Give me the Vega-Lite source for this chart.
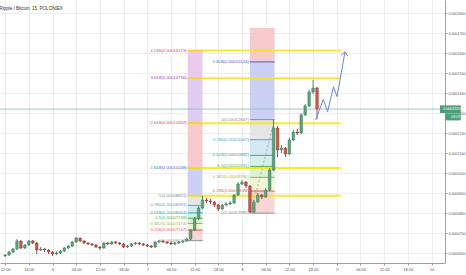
{
 "$schema": "https://vega.github.io/schema/vega-lite/v6.json",
 "width": 445, "height": 263,
 "autosize": "none",
 "padding": {"left": 0, "top": 0, "right": 21, "bottom": 12},
 "background": "white",
 "title": {"text": "Ripple / Bitcoin, 15, POLONIEX", "anchor": "start", "offset": -10, "fontSize": 4.5, "fontWeight": "normal", "color": "#333333"},
 "config": {
  "view": {"stroke": null},
  "font": "Liberation Sans",
  "axis": {"grid": true, "gridColor": "#ededed", "gridWidth": 1, "domainColor": "#a0a0a0", "tickColor": "#a0a0a0", "labelColor": "#555555", "tickSize": 2},
  "axisX": {"labelOverlap": false, "labelFlush": false, "labelFontSize": 4, "labelPadding": 2},
  "axisY": {"labelOverlap": false, "labelFlush": false, "labelFontSize": 3.6, "labelPadding": 1}
 },
 "datasets": {
  "candles": [
   {"t":"2017-05-05T12:00:00Z","o":0.00005850,"h":0.00005950,"l":0.00005800,"c":0.00005900},
   {"t":"2017-05-05T13:00:00Z","o":0.00005900,"h":0.00006100,"l":0.00005850,"c":0.00006050},
   {"t":"2017-05-05T14:00:00Z","o":0.00006050,"h":0.00006250,"l":0.00006000,"c":0.00006200},
   {"t":"2017-05-05T15:00:00Z","o":0.00006200,"h":0.00006700,"l":0.00006150,"c":0.00006600},
   {"t":"2017-05-05T16:00:00Z","o":0.00006600,"h":0.00006650,"l":0.00006200,"c":0.00006250},
   {"t":"2017-05-05T17:00:00Z","o":0.00006250,"h":0.00006450,"l":0.00006200,"c":0.00006400},
   {"t":"2017-05-05T18:00:00Z","o":0.00006400,"h":0.00006650,"l":0.00006350,"c":0.00006600},
   {"t":"2017-05-05T19:00:00Z","o":0.00006600,"h":0.00006650,"l":0.00006450,"c":0.00006500},
   {"t":"2017-05-05T20:00:00Z","o":0.00006500,"h":0.00006550,"l":0.00005950,"c":0.00006150},
   {"t":"2017-05-05T21:00:00Z","o":0.00006150,"h":0.00006300,"l":0.00006100,"c":0.00006200},
   {"t":"2017-05-05T22:00:00Z","o":0.00006200,"h":0.00006250,"l":0.00006050,"c":0.00006150},
   {"t":"2017-05-05T23:00:00Z","o":0.00006150,"h":0.00006200,"l":0.00005950,"c":0.00006050},
   {"t":"2017-05-06T00:00:00Z","o":0.00006050,"h":0.00006100,"l":0.00005850,"c":0.00005950},
   {"t":"2017-05-06T01:00:00Z","o":0.00005950,"h":0.00006080,"l":0.00005900,"c":0.00006000},
   {"t":"2017-05-06T02:00:00Z","o":0.00006000,"h":0.00006150,"l":0.00005950,"c":0.00006100},
   {"t":"2017-05-06T03:00:00Z","o":0.00006100,"h":0.00006300,"l":0.00006050,"c":0.00006250},
   {"t":"2017-05-06T04:00:00Z","o":0.00006250,"h":0.00006400,"l":0.00006200,"c":0.00006350},
   {"t":"2017-05-06T05:00:00Z","o":0.00006350,"h":0.00006600,"l":0.00006300,"c":0.00006550},
   {"t":"2017-05-06T06:00:00Z","o":0.00006550,"h":0.00006800,"l":0.00006500,"c":0.00006750},
   {"t":"2017-05-06T07:00:00Z","o":0.00006750,"h":0.00006780,"l":0.00006550,"c":0.00006600},
   {"t":"2017-05-06T08:00:00Z","o":0.00006600,"h":0.00006650,"l":0.00006450,"c":0.00006500},
   {"t":"2017-05-06T09:00:00Z","o":0.00006500,"h":0.00006550,"l":0.00006400,"c":0.00006450},
   {"t":"2017-05-06T10:00:00Z","o":0.00006450,"h":0.00006500,"l":0.00006350,"c":0.00006400},
   {"t":"2017-05-06T11:00:00Z","o":0.00006400,"h":0.00006450,"l":0.00006250,"c":0.00006300},
   {"t":"2017-05-06T12:00:00Z","o":0.00006300,"h":0.00006350,"l":0.00006150,"c":0.00006250},
   {"t":"2017-05-06T13:00:00Z","o":0.00006250,"h":0.00006550,"l":0.00006200,"c":0.00006500},
   {"t":"2017-05-06T14:00:00Z","o":0.00006500,"h":0.00006550,"l":0.00006400,"c":0.00006450},
   {"t":"2017-05-06T15:00:00Z","o":0.00006450,"h":0.00006600,"l":0.00006400,"c":0.00006550},
   {"t":"2017-05-06T16:00:00Z","o":0.00006550,"h":0.00006600,"l":0.00006450,"c":0.00006500},
   {"t":"2017-05-06T17:00:00Z","o":0.00006500,"h":0.00006550,"l":0.00006400,"c":0.00006450},
   {"t":"2017-05-06T18:00:00Z","o":0.00006450,"h":0.00006500,"l":0.00006250,"c":0.00006300},
   {"t":"2017-05-06T19:00:00Z","o":0.00006300,"h":0.00006400,"l":0.00006250,"c":0.00006350},
   {"t":"2017-05-06T20:00:00Z","o":0.00006350,"h":0.00006500,"l":0.00006300,"c":0.00006450},
   {"t":"2017-05-06T21:00:00Z","o":0.00006450,"h":0.00006550,"l":0.00006400,"c":0.00006500},
   {"t":"2017-05-06T22:00:00Z","o":0.00006500,"h":0.00006550,"l":0.00006400,"c":0.00006450},
   {"t":"2017-05-06T23:00:00Z","o":0.00006450,"h":0.00006500,"l":0.00006350,"c":0.00006400},
   {"t":"2017-05-07T00:00:00Z","o":0.00006400,"h":0.00006450,"l":0.00006300,"c":0.00006350},
   {"t":"2017-05-07T01:00:00Z","o":0.00006350,"h":0.00006400,"l":0.00006250,"c":0.00006300},
   {"t":"2017-05-07T02:00:00Z","o":0.00006300,"h":0.00006600,"l":0.00006250,"c":0.00006550},
   {"t":"2017-05-07T03:00:00Z","o":0.00006550,"h":0.00006650,"l":0.00006500,"c":0.00006600},
   {"t":"2017-05-07T04:00:00Z","o":0.00006600,"h":0.00006650,"l":0.00006500,"c":0.00006550},
   {"t":"2017-05-07T05:00:00Z","o":0.00006550,"h":0.00006600,"l":0.00006450,"c":0.00006500},
   {"t":"2017-05-07T06:00:00Z","o":0.00006500,"h":0.00006550,"l":0.00006400,"c":0.00006450},
   {"t":"2017-05-07T07:00:00Z","o":0.00006450,"h":0.00006550,"l":0.00006400,"c":0.00006500},
   {"t":"2017-05-07T08:00:00Z","o":0.00006500,"h":0.00006600,"l":0.00006450,"c":0.00006550},
   {"t":"2017-05-07T09:00:00Z","o":0.00006550,"h":0.00006650,"l":0.00006500,"c":0.00006600},
   {"t":"2017-05-07T10:00:00Z","o":0.00006600,"h":0.00006750,"l":0.00006560,"c":0.00006700},
   {"t":"2017-05-07T11:00:00Z","o":0.00006700,"h":0.00007200,"l":0.00006650,"c":0.00007150},
   {"t":"2017-05-07T12:00:00Z","o":0.00007150,"h":0.00007800,"l":0.00007100,"c":0.00007700},
   {"t":"2017-05-07T13:00:00Z","o":0.00007700,"h":0.00008350,"l":0.00007650,"c":0.00008250},
   {"t":"2017-05-07T14:00:00Z","o":0.00008250,"h":0.00008861,"l":0.00008200,"c":0.00008650},
   {"t":"2017-05-07T15:00:00Z","o":0.00008650,"h":0.00008750,"l":0.00008500,"c":0.00008600},
   {"t":"2017-05-07T16:00:00Z","o":0.00008600,"h":0.00008700,"l":0.00008450,"c":0.00008550},
   {"t":"2017-05-07T17:00:00Z","o":0.00008550,"h":0.00008600,"l":0.00008300,"c":0.00008400},
   {"t":"2017-05-07T18:00:00Z","o":0.00008400,"h":0.00008450,"l":0.00008100,"c":0.00008200},
   {"t":"2017-05-07T19:00:00Z","o":0.00008200,"h":0.00008450,"l":0.00008150,"c":0.00008400},
   {"t":"2017-05-07T20:00:00Z","o":0.00008400,"h":0.00008550,"l":0.00008350,"c":0.00008450},
   {"t":"2017-05-07T21:00:00Z","o":0.00008450,"h":0.00008600,"l":0.00008400,"c":0.00008500},
   {"t":"2017-05-07T22:00:00Z","o":0.00008500,"h":0.00008950,"l":0.00008450,"c":0.00008900},
   {"t":"2017-05-07T23:00:00Z","o":0.00008900,"h":0.00009550,"l":0.00008850,"c":0.00009450},
   {"t":"2017-05-08T00:00:00Z","o":0.00009450,"h":0.00009650,"l":0.00009400,"c":0.00009550},
   {"t":"2017-05-08T01:00:00Z","o":0.00009550,"h":0.00009600,"l":0.00009250,"c":0.00009350},
   {"t":"2017-05-08T02:00:00Z","o":0.00009350,"h":0.00009400,"l":0.00007995,"c":0.00008050},
   {"t":"2017-05-08T03:00:00Z","o":0.00008050,"h":0.00008650,"l":0.00008000,"c":0.00008550},
   {"t":"2017-05-08T04:00:00Z","o":0.00008550,"h":0.00009000,"l":0.00008500,"c":0.00008900},
   {"t":"2017-05-08T05:00:00Z","o":0.00008900,"h":0.00008950,"l":0.00008700,"c":0.00008800},
   {"t":"2017-05-08T06:00:00Z","o":0.00008800,"h":0.00009250,"l":0.00008750,"c":0.00009150},
   {"t":"2017-05-08T07:00:00Z","o":0.00009150,"h":0.00010250,"l":0.00009100,"c":0.00010150},
   {"t":"2017-05-08T08:00:00Z","o":0.00010150,"h":0.00012667,"l":0.00010100,"c":0.00012250},
   {"t":"2017-05-08T09:00:00Z","o":0.00012250,"h":0.00012350,"l":0.00010800,"c":0.00011150},
   {"t":"2017-05-08T10:00:00Z","o":0.00011150,"h":0.00011400,"l":0.00011000,"c":0.00011250},
   {"t":"2017-05-08T11:00:00Z","o":0.00011250,"h":0.00011300,"l":0.00010800,"c":0.00010950},
   {"t":"2017-05-08T12:00:00Z","o":0.00010950,"h":0.00011750,"l":0.00010900,"c":0.00011650},
   {"t":"2017-05-08T13:00:00Z","o":0.00011650,"h":0.00012150,"l":0.00011600,"c":0.00012050},
   {"t":"2017-05-08T14:00:00Z","o":0.00012050,"h":0.00012200,"l":0.00011900,"c":0.00012000},
   {"t":"2017-05-08T15:00:00Z","o":0.00012000,"h":0.00013000,"l":0.00011950,"c":0.00012900},
   {"t":"2017-05-08T16:00:00Z","o":0.00012900,"h":0.00013450,"l":0.00012850,"c":0.00013350},
   {"t":"2017-05-08T17:00:00Z","o":0.00013350,"h":0.00014150,"l":0.00013300,"c":0.00014050},
   {"t":"2017-05-08T18:00:00Z","o":0.00014050,"h":0.00014650,"l":0.00013950,"c":0.00014250},
   {"t":"2017-05-08T19:00:00Z","o":0.00014250,"h":0.00014300,"l":0.00012700,"c":0.00013200}
  ],
  "bands": [
   {"fib":"A","zone":"4.236","t":"2017-05-07T10:15:00Z","t2":"2017-05-07T14:00:00Z","v":0.00014736,"v2":0.00016123},
   {"fib":"A","zone":"3.618","t":"2017-05-07T10:15:00Z","t2":"2017-05-07T14:00:00Z","v":0.00012492,"v2":0.00014736},
   {"fib":"A","zone":"2.618","t":"2017-05-07T10:15:00Z","t2":"2017-05-07T14:00:00Z","v":0.00010248,"v2":0.00012492},
   {"fib":"A","zone":"1.618","t":"2017-05-07T10:15:00Z","t2":"2017-05-07T14:00:00Z","v":0.00008861,"v2":0.00010248},
   {"fib":"A","zone":"1","t":"2017-05-07T10:15:00Z","t2":"2017-05-07T14:00:00Z","v":0.00008381,"v2":0.00008861},
   {"fib":"A","zone":"0.786","t":"2017-05-07T10:15:00Z","t2":"2017-05-07T14:00:00Z","v":0.00008004,"v2":0.00008381},
   {"fib":"A","zone":"0.618","t":"2017-05-07T10:15:00Z","t2":"2017-05-07T14:00:00Z","v":0.00007739,"v2":0.00008004},
   {"fib":"A","zone":"0.5","t":"2017-05-07T10:15:00Z","t2":"2017-05-07T14:00:00Z","v":0.00007474,"v2":0.00007739},
   {"fib":"A","zone":"0.382","t":"2017-05-07T10:15:00Z","t2":"2017-05-07T14:00:00Z","v":0.00007147,"v2":0.00007474},
   {"fib":"A","zone":"0.236","t":"2017-05-07T10:15:00Z","t2":"2017-05-07T14:00:00Z","v":0.00006617,"v2":0.00007147},
   {"fib":"B","zone":"2.618","t":"2017-05-08T02:00:00Z","t2":"2017-05-08T08:15:00Z","v":0.00015554,"v2":0.00017250},
   {"fib":"B","zone":"1.618","t":"2017-05-08T02:00:00Z","t2":"2017-05-08T08:15:00Z","v":0.00012667,"v2":0.00015554},
   {"fib":"B","zone":"1","t":"2017-05-08T02:00:00Z","t2":"2017-05-08T08:15:00Z","v":0.00011667,"v2":0.00012667},
   {"fib":"B","zone":"0.786","t":"2017-05-08T02:00:00Z","t2":"2017-05-08T08:15:00Z","v":0.00010882,"v2":0.00011667},
   {"fib":"B","zone":"0.618","t":"2017-05-08T02:00:00Z","t2":"2017-05-08T08:15:00Z","v":0.00010331,"v2":0.00010882},
   {"fib":"B","zone":"0.5","t":"2017-05-08T02:00:00Z","t2":"2017-05-08T08:15:00Z","v":0.00009780,"v2":0.00010331},
   {"fib":"B","zone":"0.382","t":"2017-05-08T02:00:00Z","t2":"2017-05-08T08:15:00Z","v":0.00009098,"v2":0.00009780},
   {"fib":"B","zone":"0.236","t":"2017-05-08T02:00:00Z","t2":"2017-05-08T08:15:00Z","v":0.00007995,"v2":0.00009098}
  ],
  "levels": [
   {"fib":"A","level":"4.236","v":0.00016123,"t":"2017-05-07T10:15:00Z","t2":"2017-05-07T14:00:00Z","label":"4.236(0.00016123)"},
   {"fib":"A","level":"3.618","v":0.00014736,"t":"2017-05-07T10:15:00Z","t2":"2017-05-07T14:00:00Z","label":"3.618(0.00014736)"},
   {"fib":"A","level":"2.618","v":0.00012492,"t":"2017-05-07T10:15:00Z","t2":"2017-05-07T14:00:00Z","label":"2.618(0.00012492)"},
   {"fib":"A","level":"1.618","v":0.00010248,"t":"2017-05-07T10:15:00Z","t2":"2017-05-07T14:00:00Z","label":"1.618(0.00010248)"},
   {"fib":"A","level":"1","v":0.00008861,"t":"2017-05-07T10:15:00Z","t2":"2017-05-07T14:00:00Z","label":"1(0.00008861)"},
   {"fib":"A","level":"0.786","v":0.00008381,"t":"2017-05-07T10:15:00Z","t2":"2017-05-07T14:00:00Z","label":"0.786(0.00008381)"},
   {"fib":"A","level":"0.618","v":0.00008004,"t":"2017-05-07T10:15:00Z","t2":"2017-05-07T14:00:00Z","label":"0.618(0.00008004)"},
   {"fib":"A","level":"0.5","v":0.00007739,"t":"2017-05-07T10:15:00Z","t2":"2017-05-07T14:00:00Z","label":"0.5(0.00007739)"},
   {"fib":"A","level":"0.382","v":0.00007474,"t":"2017-05-07T10:15:00Z","t2":"2017-05-07T14:00:00Z","label":"0.382(0.00007474)"},
   {"fib":"A","level":"0.236","v":0.00007147,"t":"2017-05-07T10:15:00Z","t2":"2017-05-07T14:00:00Z","label":"0.236(0.00007147)"},
   {"fib":"A","level":"0","v":0.00006617,"t":"2017-05-07T10:15:00Z","t2":"2017-05-07T14:00:00Z","label":"0(0.00006617)"},
   {"fib":"B","level":"1.618","v":0.00015554,"t":"2017-05-08T02:00:00Z","t2":"2017-05-08T08:15:00Z","label":"1.618(0.00015554)"},
   {"fib":"B","level":"1","v":0.00012667,"t":"2017-05-08T02:00:00Z","t2":"2017-05-08T08:15:00Z","label":"1(0.00012667)"},
   {"fib":"B","level":"0.786","v":0.00011667,"t":"2017-05-08T02:00:00Z","t2":"2017-05-08T08:15:00Z","label":"0.786(0.00011667)"},
   {"fib":"B","level":"0.618","v":0.00010882,"t":"2017-05-08T02:00:00Z","t2":"2017-05-08T08:15:00Z","label":"0.618(0.00010882)"},
   {"fib":"B","level":"0.5","v":0.00010331,"t":"2017-05-08T02:00:00Z","t2":"2017-05-08T08:15:00Z","label":"0.5(0.00010331)"},
   {"fib":"B","level":"0.382","v":0.00009780,"t":"2017-05-08T02:00:00Z","t2":"2017-05-08T08:15:00Z","label":"0.382(0.00009780)"},
   {"fib":"B","level":"0.236","v":0.00009098,"t":"2017-05-08T02:00:00Z","t2":"2017-05-08T08:15:00Z","label":"0.236(0.00009098)"},
   {"fib":"B","level":"0","v":0.00007995,"t":"2017-05-08T02:00:00Z","t2":"2017-05-08T08:15:00Z","label":"0(0.00007995)"}
  ],
  "yellow": [
   {"v":0.00016123,"t":"2017-05-07T10:15:00Z","t2":"2017-05-09T01:00:00Z"},
   {"v":0.00014736,"t":"2017-05-07T10:15:00Z","t2":"2017-05-09T01:00:00Z"},
   {"v":0.00012492,"t":"2017-05-07T10:15:00Z","t2":"2017-05-09T01:00:00Z"},
   {"v":0.00010248,"t":"2017-05-07T10:15:00Z","t2":"2017-05-09T01:00:00Z"},
   {"v":0.00008861,"t":"2017-05-07T10:15:00Z","t2":"2017-05-09T01:00:00Z"}
  ],
  "trend": [
   {"t":"2017-05-08T02:15:00Z","v":0.00007995,"t2":"2017-05-08T08:15:00Z","v2":0.00012667}
  ],
  "proj": [
   {"n":1,"t":"2017-05-08T18:40:00Z","v":0.0001265},
   {"n":2,"t":"2017-05-08T20:35:00Z","v":0.0001368},
   {"n":3,"t":"2017-05-08T21:40:00Z","v":0.0001307},
   {"n":4,"t":"2017-05-08T23:10:00Z","v":0.0001431},
   {"n":5,"t":"2017-05-09T00:05:00Z","v":0.0001382},
   {"n":6,"t":"2017-05-09T02:05:00Z","v":0.0001606}
  ],
  "arrow": [
   {"t":"2017-05-09T02:05:00Z","v":0.0001606,"t2":"2017-05-09T01:05:00Z","v2":0.0001588},
   {"t":"2017-05-09T02:05:00Z","v":0.0001606,"t2":"2017-05-09T02:45:00Z","v2":0.0001585}
  ],
  "tags": [
   {"t":"2017-05-10T02:09:00Z","t2":"2017-05-10T07:25:00Z","v":0.0001300,"v2":0.0001338,"vm":0.0001319,"text":"0.0001320"},
   {"t":"2017-05-10T03:30:00Z","t2":"2017-05-10T07:25:00Z","v":0.0001263,"v2":0.0001298,"vm":0.0001280,"text":"03:47"}
  ]
 },
 "layer": [
  {
   "data": {"name": "bands"},
   "mark": {"type": "rect", "opacity": 0.9},
   "encoding": {
    "x": {"field": "t", "type": "temporal", "title": null,
      "scale": {"domain": [{"year": 2017, "month": 5, "date": 5, "hours": 11, "minutes": 58, "utc": true}, {"year": 2017, "month": 5, "date": 10, "hours": 2, "minutes": 9, "utc": true}], "nice": false},
      "axis": {"orient": "bottom", "labelOverlap": false, "labelFlush": false, "tickCount": 19,
        "labelExpr": "utchours(datum.value) == 0 ? utcFormat(datum.value, '%-d') : utcFormat(datum.value, '%H:%M')"}},
    "x2": {"field": "t2"},
    "y": {"field": "v", "type": "quantitative", "title": null,
      "scale": {"domain": [0.000055, 0.0001865], "nice": false, "zero": false},
      "axis": {"orient": "right", "tickCount": 13, "format": ".7f", "labelOverlap": false}},
    "y2": {"field": "v2"},
    "fill": {"field": "zone", "type": "nominal", "legend": null,
      "scale": {"domain": ["4.236", "3.618", "2.618", "1.618", "1", "0.786", "0.618", "0.5", "0.382", "0.236"],
                "range": ["#e9c4ec", "#dcc6f0", "#f5c3c8", "#c6cbf4", "#e3e3e3", "#cfe5f3", "#cdeee4", "#d7efcf", "#edf4d2", "#f7d0d0"]}}
   }
  },
  {
   "data": {"name": "levels"},
   "mark": {"type": "rule", "strokeWidth": 1},
   "encoding": {
    "x": {"field": "t", "type": "temporal", "title": null},
    "x2": {"field": "t2"},
    "y": {"field": "v", "type": "quantitative", "title": null},
    "color": {"field": "level", "type": "nominal", "legend": null,
      "scale": {"domain": ["0", "0.236", "0.382", "0.5", "0.618", "0.786", "1", "1.618", "2.618", "3.618", "4.236"],
                "range": ["#8c8c8c", "#e05555", "#9fb43a", "#4caf50", "#2bab8a", "#4ea5dc", "#8c8c8c", "#4a5bd0", "#e04848", "#9c3fc0", "#e0407a"]}}
   }
  },
  {
   "data": {"name": "trend"},
   "mark": {"type": "rule", "strokeDash": [2, 2], "color": "#9a9a9a", "strokeWidth": 0.8},
   "encoding": {
    "x": {"field": "t", "type": "temporal", "title": null},
    "x2": {"field": "t2"},
    "y": {"field": "v", "type": "quantitative", "title": null},
    "y2": {"field": "v2"}
   }
  },
  {
   "data": {"name": "yellow"},
   "mark": {"type": "rule", "strokeWidth": 2, "color": "#f7e51a", "opacity": 0.9},
   "encoding": {
    "x": {"field": "t", "type": "temporal", "title": null},
    "x2": {"field": "t2"},
    "y": {"field": "v", "type": "quantitative", "title": null}
   }
  },
  {
   "data": {"values": [{"v": 0.000132}]},
   "mark": {"type": "rule", "strokeWidth": 0.8, "color": "#7fc3b8"},
   "encoding": {
    "y": {"field": "v", "type": "quantitative", "title": null}
   }
  },
  {
   "data": {"name": "candles"},
   "mark": {"type": "rule", "strokeWidth": 0.8},
   "encoding": {
    "x": {"field": "t", "type": "temporal", "title": null},
    "y": {"field": "l", "type": "quantitative", "title": null},
    "y2": {"field": "h"},
    "color": {"condition": {"test": "datum.c >= datum.o", "value": "#2f6b48"}, "value": "#7a2a20"}
   }
  },
  {
   "data": {"name": "candles"},
   "mark": {"type": "bar", "size": 2.6, "strokeWidth": 0.4},
   "encoding": {
    "x": {"field": "t", "type": "temporal", "title": null},
    "y": {"field": "o", "type": "quantitative", "title": null},
    "y2": {"field": "c"},
    "fill": {"condition": {"test": "datum.c >= datum.o", "value": "#5fa37c"}, "value": "#c9584a"},
    "stroke": {"condition": {"test": "datum.c >= datum.o", "value": "#2f6b48"}, "value": "#7a2a20"}
   }
  },
  {
   "data": {"name": "levels"},
   "mark": {"type": "text", "align": "right", "baseline": "middle", "dx": -1, "fontSize": 4.3},
   "encoding": {
    "x": {"field": "t", "type": "temporal", "title": null},
    "y": {"field": "v", "type": "quantitative", "title": null},
    "text": {"field": "label", "type": "nominal"},
    "color": {"field": "level", "type": "nominal", "legend": null}
   }
  },
  {
   "data": {"name": "proj"},
   "mark": {"type": "line", "strokeWidth": 1, "color": "#6a86d8"},
   "encoding": {
    "x": {"field": "t", "type": "temporal", "title": null},
    "y": {"field": "v", "type": "quantitative", "title": null},
    "order": {"field": "n", "type": "quantitative"}
   }
  },
  {
   "data": {"name": "arrow"},
   "mark": {"type": "rule", "strokeWidth": 1, "color": "#6a86d8"},
   "encoding": {
    "x": {"field": "t", "type": "temporal", "title": null},
    "x2": {"field": "t2"},
    "y": {"field": "v", "type": "quantitative", "title": null},
    "y2": {"field": "v2"}
   }
  },
  {
   "data": {"name": "tags"},
   "mark": {"type": "rect", "color": "#4e9f79", "clip": false},
   "encoding": {
    "x": {"field": "t", "type": "temporal", "title": null},
    "x2": {"field": "t2"},
    "y": {"field": "v", "type": "quantitative", "title": null},
    "y2": {"field": "v2"}
   }
  },
  {
   "data": {"name": "tags"},
   "mark": {"type": "text", "align": "right", "baseline": "middle", "dx": -0.5, "fontSize": 3.6, "color": "white", "clip": false},
   "encoding": {
    "x": {"field": "t2", "type": "temporal", "title": null},
    "y": {"field": "vm", "type": "quantitative", "title": null},
    "text": {"field": "text", "type": "nominal"}
   }
  }
 ]
}
